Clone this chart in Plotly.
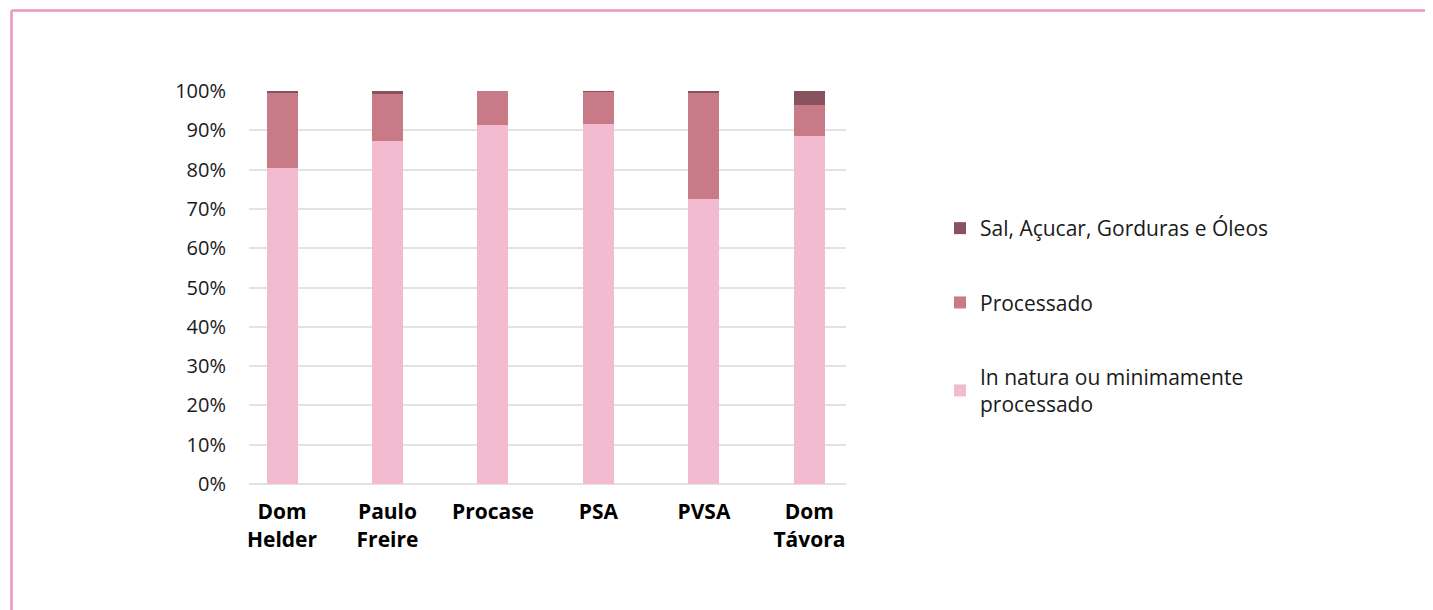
import plotly.graph_objects as go

# categorias e valores (% do total)
programas = ['Dom<br>Helder', 'Paulo<br>Freire', 'Procase', 'PSA', 'PVSA', 'Dom<br>Távora']
in_natura = [80.4, 87.3, 91.3, 91.6, 72.5, 88.5]
processado = [19.3, 11.9, 8.7, 8.15, 27.0, 7.9]
sal_acucar = [0.3, 0.8, 0.0, 0.25, 0.5, 3.6]

nomes = ['In natura ou minimamente<br>processado', 'Processado', 'Sal, Açucar, Gorduras e Óleos']
cores = ['#F2BBD0', '#C97A87', '#87515E']

# a pagina tem 8px de margem no body
OFF = 8
W, H = 1433 - OFF, 610 - OFF
L, R = 249 - OFF, 846 - OFF      # area do grafico em px
T, B = 91 - OFF, 484 - OFF

fig = go.Figure()
for i, (nome, vals) in enumerate(zip(nomes, [in_natura, processado, sal_acucar])):
    fig.add_trace(go.Bar(
        x=list(range(len(programas))), y=vals, name=nome,
        marker_color=cores[i], marker_line_width=0,
        width=0.294, legendgroup=str(i), legendrank=3 - i,
    ))

# converte px da tela em coordenadas do paper
def px_x(p):
    return (p - OFF - L) / (R - L)

def px_y(p):
    return (B - (p - OFF)) / (B - T)

# moldura rosa (topo e esquerda)
fig.add_shape(type='line', xref='paper', yref='paper',
              x0=px_x(11.5), x1=px_x(1450), y0=px_y(10.5), y1=px_y(10.5),
              line=dict(color='#E896C2', width=2.5))
fig.add_shape(type='line', xref='paper', yref='paper',
              x0=px_x(11.5), x1=px_x(11.5), y0=px_y(10.5), y1=px_y(630),
              line=dict(color='#E896C2', width=2.5))

fig.update_layout(
    width=W, height=H,
    margin=dict(l=L, r=W - R, t=T, b=H - B, autoexpand=False),
    paper_bgcolor='white', plot_bgcolor='white',
    barmode='stack',
    font=dict(family='Open Sans', size=20, color='#1a1a1a'),
    xaxis=dict(
        tickmode='array', tickvals=list(range(len(programas))), ticktext=programas,
        range=[-0.313, 5.347], showgrid=False, zeroline=False,
        showline=False, tickfont=dict(size=21, color='#000000', family='Open Sans', weight='bold'),
        ticks='outside', ticklen=9, tickcolor='rgba(0,0,0,0)',
    ),
    yaxis=dict(
        range=[0, 100], dtick=10, ticksuffix='%',
        showgrid=True, gridcolor='#E3E3E3', gridwidth=1.5,
        zeroline=True, zerolinecolor='#E3E3E3', zerolinewidth=1.5,
        showline=False, ticks='outside', ticklen=18, tickcolor='rgba(0,0,0,0)',
        tickfont=dict(size=20, color='#1a1a1a'),
    ),
    legend=dict(
        x=px_x(940), y=px_y(208), xanchor='left', yanchor='top',
        traceorder='grouped', tracegroupgap=44,
        font=dict(size=21, color='#1a1a1a'), bgcolor='rgba(0,0,0,0)',
    ),
    showlegend=True,
)

fig.write_html('out.html')
